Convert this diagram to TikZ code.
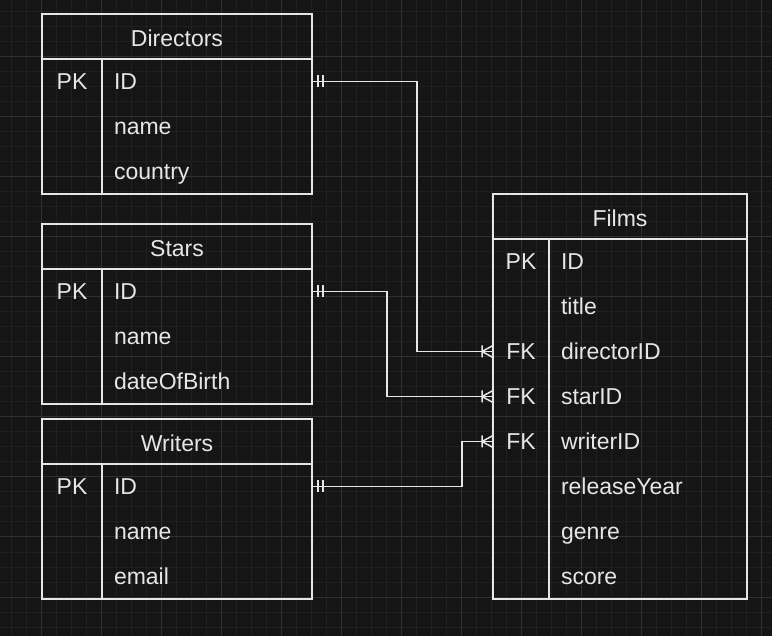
\documentclass[tikz,border=0pt]{standalone}
\usepackage{fontspec}
\setmainfont{Liberation Sans}
\usepackage{tikz}
\usetikzlibrary{positioning, decorations.markings}

\definecolor{canvas}{HTML}{151515}
\definecolor{minorgrid}{HTML}{202020}
\definecolor{majorgrid}{HTML}{303030}
\definecolor{ink}{HTML}{E6E6E6}

\begin{document}
\begin{tikzpicture}[x=1pt, y=-1pt, every node/.style={text=ink, font=\fontsize{23}{28}\selectfont}
    , node distance=0pt
    , line/.style={draw=ink, line width=1.5pt}
    , head/.style={line, outer sep=0, inner sep=0, minimum height=45, text height=20, text depth=0}
    , keycell/.style={outer sep=0, inner sep=0, minimum width=#1, minimum height=45, text height=16.5, text depth=0}
    , fieldcell/.style={outer sep=0, inner xsep=12, inner ysep=0, text width=#1, align=left, minimum height=45, text height=16.5, text depth=0}
    , relation/.style={line, postaction={decorate}, decoration={markings,
        mark=at position 6pt with {\draw[line] (0,-6) -- (0,6);},
        mark=at position 11pt with {\draw[line] (0,-6) -- (0,6);},
        mark=at position 1 with {\draw[line] (0,-6) -- (-11,0) -- (0,6) (-11,-6) -- (-11,6);}}}
    ]

    \useasboundingbox (0,0) rectangle (772,636);
    \fill[canvas] (0,0) rectangle (772,636);

    % background grid
    \foreach \gx in {11,26,...,761} \draw[minorgrid, line width=1pt] (\gx,0) -- (\gx,636);
    \foreach \gy in {12,27,...,627} \draw[minorgrid, line width=1pt] (0,\gy) -- (772,\gy);
    \foreach \gx in {41,101,...,761} \draw[majorgrid, line width=1pt] (\gx,0) -- (\gx,636);
    \foreach \gy in {57,117,...,597} \draw[majorgrid, line width=1pt] (0,\gy) -- (772,\gy);

    % Directors
    \node[head, minimum width=270, anchor=north west] (dirH) at (42,14) {Directors};
    \node[keycell=60, below right=0pt of dirH.south west] (dirK1) {PK};
    \node[fieldcell=186, right=0pt of dirK1] (dirF1) {ID};
    \node[keycell=60, below=0pt of dirK1] (dirK2) {};
    \node[fieldcell=186, right=0pt of dirK2] (dirF2) {name};
    \node[keycell=60, below=0pt of dirK2] (dirK3) {};
    \node[fieldcell=186, right=0pt of dirK3] (dirF3) {country};
    \draw[line] (dirH.north west) rectangle (dirF3.south east);
    \draw[line] (dirK1.north east) -- (dirK3.south east);

    % Stars
    \node[head, minimum width=270, below right=30pt and 0pt of dirK3.south west] (starH) {Stars};
    \node[keycell=60, below right=0pt of starH.south west] (starK1) {PK};
    \node[fieldcell=186, right=0pt of starK1] (starF1) {ID};
    \node[keycell=60, below=0pt of starK1] (starK2) {};
    \node[fieldcell=186, right=0pt of starK2] (starF2) {name};
    \node[keycell=60, below=0pt of starK2] (starK3) {};
    \node[fieldcell=186, right=0pt of starK3] (starF3) {dateOfBirth};
    \draw[line] (starH.north west) rectangle (starF3.south east);
    \draw[line] (starK1.north east) -- (starK3.south east);

    % Writers
    \node[head, minimum width=270, below right=15pt and 0pt of starK3.south west] (wriH) {Writers};
    \node[keycell=60, below right=0pt of wriH.south west] (wriK1) {PK};
    \node[fieldcell=186, right=0pt of wriK1] (wriF1) {ID};
    \node[keycell=60, below=0pt of wriK1] (wriK2) {};
    \node[fieldcell=186, right=0pt of wriK2] (wriF2) {name};
    \node[keycell=60, below=0pt of wriK2] (wriK3) {};
    \node[fieldcell=186, right=0pt of wriK3] (wriF3) {email};
    \draw[line] (wriH.north west) rectangle (wriF3.south east);
    \draw[line] (wriK1.north east) -- (wriK3.south east);

    % Films
    \node[head, minimum width=254, anchor=north west] (filH) at (493,194) {Films};
    \node[keycell=56, below right=0pt of filH.south west] (filK1) {PK};
    \node[fieldcell=174, right=0pt of filK1] (filF1) {ID};
    \node[keycell=56, below=0pt of filK1] (filK2) {};
    \node[fieldcell=174, right=0pt of filK2] (filF2) {title};
    \node[keycell=56, below=0pt of filK2] (filK3) {FK};
    \node[fieldcell=174, right=0pt of filK3] (filF3) {directorID};
    \node[keycell=56, below=0pt of filK3] (filK4) {FK};
    \node[fieldcell=174, right=0pt of filK4] (filF4) {starID};
    \node[keycell=56, below=0pt of filK4] (filK5) {FK};
    \node[fieldcell=174, right=0pt of filK5] (filF5) {writerID};
    \node[keycell=56, below=0pt of filK5] (filK6) {};
    \node[fieldcell=174, right=0pt of filK6] (filF6) {releaseYear};
    \node[keycell=56, below=0pt of filK6] (filK7) {};
    \node[fieldcell=174, right=0pt of filK7] (filF7) {genre};
    \node[keycell=56, below=0pt of filK7] (filK8) {};
    \node[fieldcell=174, right=0pt of filK8] (filF8) {score};
    \draw[line] (filH.north west) rectangle (filF8.south east);
    \draw[line] (filK1.north east) -- (filK8.south east);

    % one-to-many links
    \draw[relation] (dirF1.east) -- ++(105,0) |- (filK3.west);
    \draw[relation] (starF1.east) -- ++(75,0) |- (filK4.west);
    \draw[relation] (wriF1.east) -- ++(150,0) |- (filK5.west);

\end{tikzpicture}
\end{document}
